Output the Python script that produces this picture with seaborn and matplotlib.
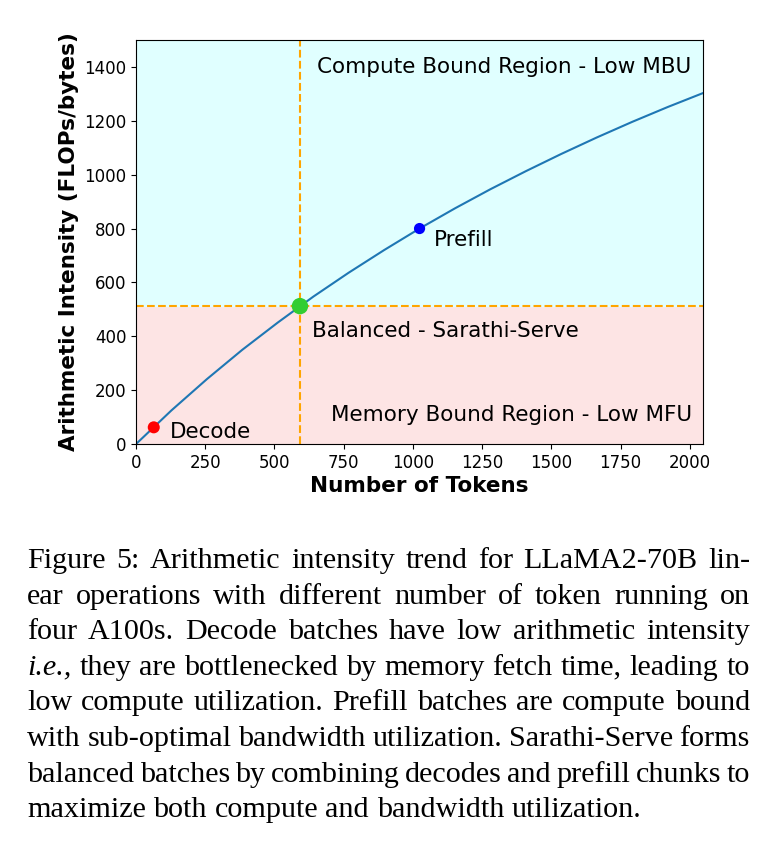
import matplotlib
matplotlib.use('Agg')
import matplotlib.pyplot as plt
import seaborn as sns
import pandas as pd

# curve
tokens = [0, 128, 256, 384, 512, 640, 768, 896, 1024, 1152, 1280, 1408, 1536, 1664, 1792, 1920, 2048]
intensity = [0, 125, 241, 350, 451, 547, 636, 720, 800, 875, 946, 1013, 1077, 1138, 1196, 1251, 1303]

point_names = ['Decode', 'Balanced - Sarathi-Serve', 'Prefill']
point_x = [64, 592, 1024]
point_y = [62, 512, 800]
point_colors = ['red', 'limegreen', 'blue']

balance_x = 592
balance_y = 512

region_labels = ['Compute Bound Region - Low MBU', 'Memory Bound Region - Low MFU']

caption_lines = [
    'Figure 5: Arithmetic intensity trend for LLaMA2-70B lin-',
    'ear operations with different number of token running on',
    'four A100s. Decode batches have low arithmetic intensity',
    'i.e., they are bottlenecked by memory fetch time, leading to',
    'low compute utilization. Prefill batches are compute bound',
    'with sub-optimal bandwidth utilization. Sarathi-Serve forms',
    'balanced batches by combining decodes and prefill chunks to',
    'maximize both compute and bandwidth utilization.',
]

sns.set_style('ticks')
plt.rcParams['font.family'] = ['DejaVu Sans']
for k in ['text.color', 'axes.labelcolor', 'xtick.color', 'ytick.color', 'axes.edgecolor']:
    plt.rcParams[k] = 'black'

fig = plt.figure(figsize=(7.76, 8.49), dpi=100)
ax = fig.add_axes([0.1753, 0.477, 0.7307, 0.4759])

xmax, ymax = 2048, 1500
ax.axhspan(0, balance_y, color='#fde4e4', zorder=0)
ax.axhspan(balance_y, ymax, color='#e0ffff', zorder=0)
ax.axhline(balance_y, color='orange', ls='--', lw=1.5, zorder=1)
ax.axvline(balance_x, color='orange', ls='--', lw=1.5, zorder=1)

df = pd.DataFrame({'tokens': tokens, 'intensity': intensity})
sns.lineplot(data=df, x='tokens', y='intensity', ax=ax, color='#1f77b4', lw=1.5, zorder=2)

pts = pd.DataFrame({'x': point_x, 'y': point_y, 'name': point_names})
sizes = {'Decode': 75, 'Balanced - Sarathi-Serve': 140, 'Prefill': 65}
sns.scatterplot(data=pts, x='x', y='y', hue='name', palette=dict(zip(point_names, point_colors)),
                size='name', sizes=sizes, legend=False, edgecolor='none', ax=ax, zorder=3)

fs = 15.5
ax.text(123, 45, point_names[0], fontsize=fs, va='center', ha='left')
ax.text(634, 420, point_names[1], fontsize=fs, va='center', ha='left')
ax.text(1076, 757, point_names[2], fontsize=fs, va='center', ha='left')
ax.text(2007, 1400, region_labels[0], fontsize=fs, va='center', ha='right')
ax.text(2007, 108, region_labels[1], fontsize=fs, va='center', ha='right')

ax.set_xlim(0, xmax)
ax.set_ylim(0, ymax)
ax.set_xticks(range(0, 2001, 250))
ax.set_yticks(range(0, 1401, 200))
ax.tick_params(labelsize=12)
ax.set_xlabel('Number of Tokens', fontsize=15.5, fontweight='bold', labelpad=3)
ax.set_ylabel('Arithmetic Intensity (FLOPs/bytes)', fontsize=15.5, fontweight='bold')

# caption, justified word by word
W, H = fig.get_size_inches() * fig.dpi
left_px, right_px = 27, 750
base0, step = 568, 35.6
cap_kw = dict(family=['Liberation Serif'], fontsize=21.7)
fig.canvas.draw()
renderer = fig.canvas.get_renderer()
for i, line in enumerate(caption_lines):
    y = 1 - (base0 + i * step) / H
    words = line.split(' ')
    objs = []
    for w in words:
        style = 'italic' if w == 'i.e.,' else 'normal'
        objs.append(fig.text(0, y, w, va='baseline', ha='left', style=style, **cap_kw))
    widths = [o.get_window_extent(renderer).width for o in objs]
    if i < len(caption_lines) - 1:
        gap = (right_px - left_px - sum(widths)) / (len(words) - 1)
    else:
        sp = fig.text(0, 0, 'a a', **cap_kw)
        nsp = fig.text(0, 0, 'aa', **cap_kw)
        gap = sp.get_window_extent(renderer).width - nsp.get_window_extent(renderer).width
        sp.remove()
        nsp.remove()
    x = left_px
    for o, w in zip(objs, widths):
        o.set_x(x / W)
        x += w + gap

fig.savefig('out.png', dpi=100)
